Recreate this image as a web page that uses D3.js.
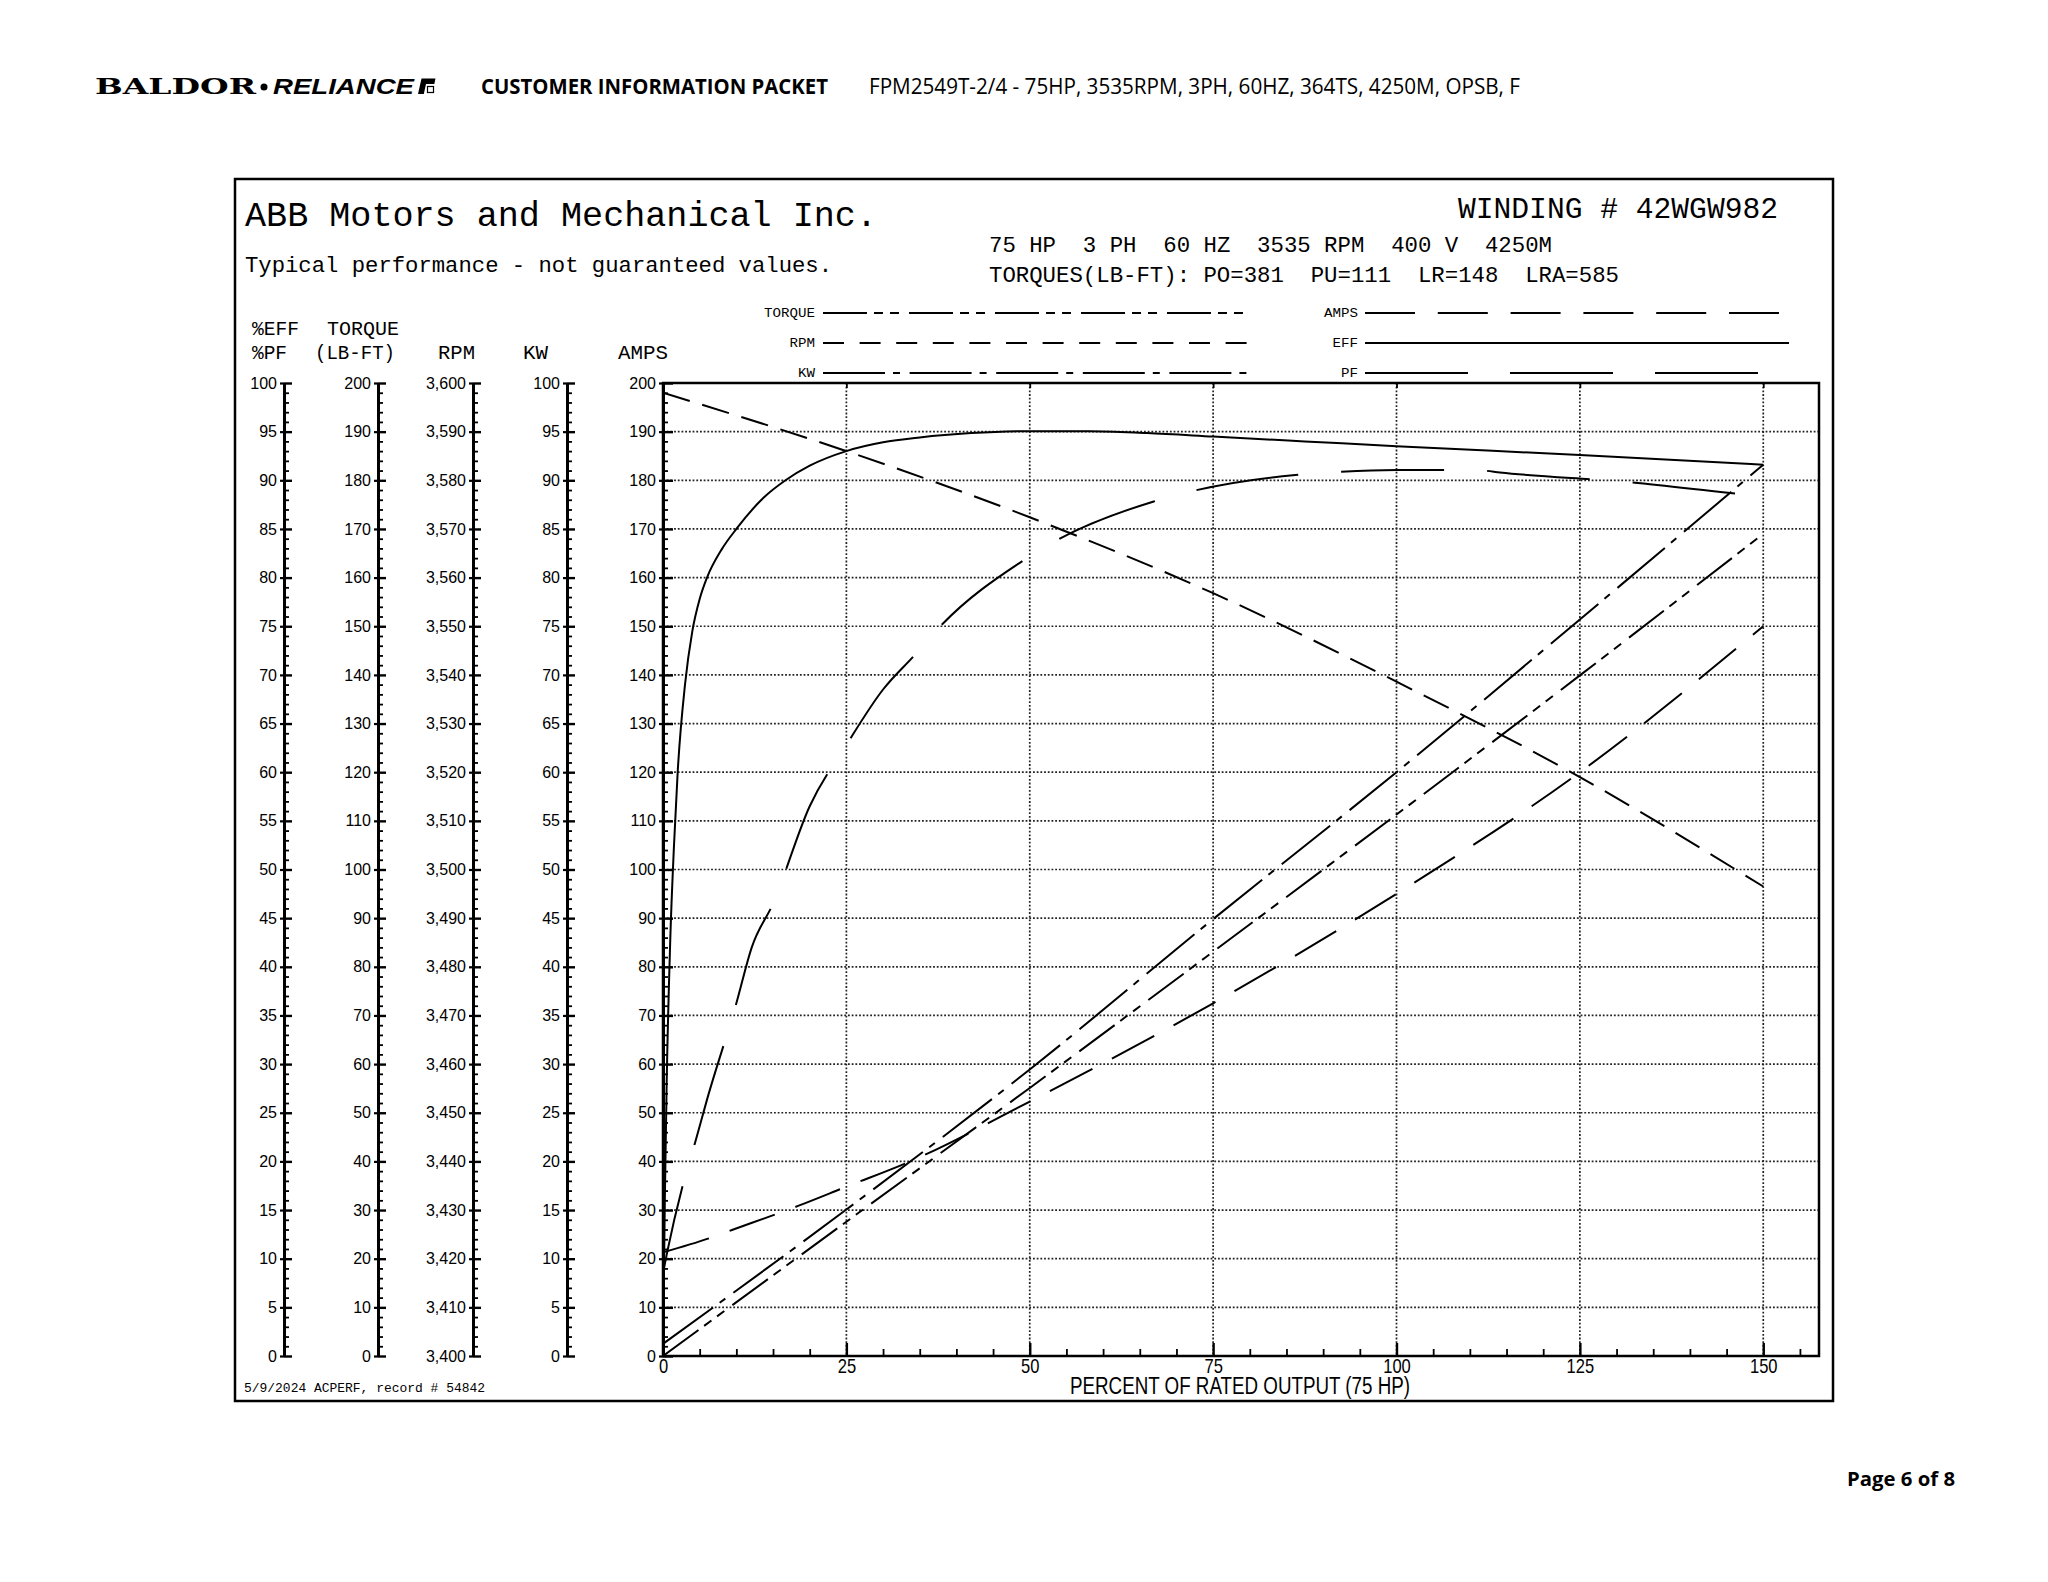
<!DOCTYPE html>
<html><head><meta charset="utf-8">
<script src="https://cdn.jsdelivr.net/npm/d3@7"></script>
<style>body{margin:0;background:#fff} svg{display:block} text{white-space:pre}</style>
</head><body>
<svg id="c" width="2048" height="1582"></svg>
<script>
// ---------------- DATA ----------------
const xTicks = [0, 25, 50, 75, 100, 125, 150];            // % of rated output
const effLoad = [0,0.25,0.5,1,1.5,2,3,4,5,6,8,10,13.7,16.7,20,25,30,35,42,50,58,66,75,87.5,100,125,150];
const effPct  = [0,16,28,43,52.5,60,69,74.5,77.8,80,82.9,85,88.2,90,91.5,93,93.9,94.4,94.85,95.05,95.05,94.85,94.5,94,93.5,92.6,91.6];
const pfLoad  = [0,0.55,2.8,4.4,6,10,12.1,15,20,25,30,34.2,38,49,54.1,66.8,72.5,86.2,91.9,100,105.8,111.7,114.1,131.9,145.5,150];
const pfPct   = [8.5,10.6,17.85,22,26.35,36.25,42,46.5,56.5,62.8,68.5,71.95,75.15,81.7,84,87.8,88.95,90.55,90.85,91.05,91.05,91,90.8,89.8,88.7,88.35];
const rpmLoad = [0,25,50,75,100,125,150];
const rpmVals = [3598,3586,3572.4,3556.8,3538.6,3519,3496.5];
const kwLoad  = [0,25,50,75,100,125,150];
const kwVals  = [1.25,15.05,29.45,44.9,60,75.7,91.6];
const tqLoad  = [0,25,50,75,100,125,150];
const tqVals  = [0,27.6,55.1,83.1,111.3,139.9,169];
const ampLoad = [0,6.5,9.4,15.5,18.5,25,33.7,50,75,100,125,150];
const ampVals = [21.3,24.3,25.9,29.2,30.9,34.8,40,52.3,72.5,95,120,150];
const legendNames = ["TORQUE","RPM","KW","AMPS","EFF","PF"];

// ---------------- LAYOUT ----------------
const svg = d3.select("#c");
const PL = 663, PR = 1819, PT = 383, PB = 1356;
const mono = "Liberation Mono, DejaVu Sans Mono, monospace";
const sans = "Liberation Sans, Arial, sans-serif";

const x = d3.scaleLinear().domain([0, 157.6]).range([PL, PR]);
const yAmp = d3.scaleLinear().domain([0, 200]).range([PB, PT]);
const yEff = d3.scaleLinear().domain([0, 100]).range([PB, PT]);
const yTq  = d3.scaleLinear().domain([0, 200]).range([PB, PT]);
const yRpm = d3.scaleLinear().domain([3400, 3600]).range([PB, PT]);
const yKw  = d3.scaleLinear().domain([0, 100]).range([PB, PT]);

// ---------------- HEADER ----------------
const hdr = svg.append("g");
hdr.append("text").attr("x",95).attr("y",94).attr("font-family","DejaVu Serif, serif").attr("font-weight","bold")
  .attr("font-size",22).attr("textLength",161).attr("lengthAdjust","spacingAndGlyphs").text("BALDOR");
hdr.append("circle").attr("cx",264).attr("cy",87).attr("r",3.5).attr("fill","#000");
hdr.append("text").attr("x",273).attr("y",94).attr("font-family",sans).attr("font-weight","bold").attr("font-style","italic")
  .attr("font-size",22).attr("textLength",141).attr("lengthAdjust","spacingAndGlyphs").text("RELIANCE");
hdr.append("path").attr("d","M418,94 L421.5,78.5 L435.5,78.5 L434.3,84 L426,84 L423.8,94 Z").attr("fill","#000");
hdr.append("rect").attr("x",427.5).attr("y",86.5).attr("width",6).attr("height",6).attr("fill","none").attr("stroke","#000").attr("stroke-width",1.2);
hdr.append("text").attr("x",481).attr("y",94).attr("font-family","Open Sans, "+sans).attr("font-weight","bold")
  .attr("font-size",21).attr("textLength",347).attr("lengthAdjust","spacingAndGlyphs").text("CUSTOMER INFORMATION PACKET");
hdr.append("text").attr("x",869).attr("y",94).attr("font-family","Open Sans, "+sans)
  .attr("font-size",21).attr("textLength",651).attr("lengthAdjust","spacingAndGlyphs")
  .text("FPM2549T-2/4 - 75HP, 3535RPM, 3PH, 60HZ, 364TS, 4250M, OPSB, F");
svg.append("text").attr("x",1847).attr("y",1486).attr("font-family","Open Sans, "+sans).attr("font-weight","bold")
  .attr("font-size",20).attr("textLength",108).attr("lengthAdjust","spacingAndGlyphs").text("Page 6 of 8");

// ---------------- FRAME & TITLES ----------------
svg.append("rect").attr("x",235).attr("y",179).attr("width",1598).attr("height",1222)
  .attr("fill","none").attr("stroke","#000").attr("stroke-width",2.5);
function mtext(tx, xx, yy, size, len, anchor) {
  const t = svg.append("text").attr("x",xx).attr("y",yy).attr("font-family",mono).attr("font-size",size)
    .attr("xml:space","preserve").style("white-space","pre").text(tx);
  if (len) t.attr("textLength",len).attr("lengthAdjust","spacingAndGlyphs");
  if (anchor) t.attr("text-anchor",anchor);
  return t;
}
mtext("ABB Motors and Mechanical Inc.", 245, 226, 35, 632);
mtext("Typical performance - not guaranteed values.", 245, 272, 22, 587);
mtext("WINDING # 42WGW982", 1458, 218, 30, 320);
mtext("75 HP  3 PH  60 HZ  3535 RPM  400 V  4250M", 989, 252, 22, 563);
mtext("TORQUES(LB-FT): PO=381  PU=111  LR=148  LRA=585", 989, 282, 22, 630);
mtext("5/9/2024 ACPERF, record # 54842", 244, 1392, 13, 241);

mtext("%EFF", 252, 335, 19.5, 47);
mtext("TORQUE", 327, 335, 19.5, 72);
mtext("%PF", 252, 359, 19.5, 35);
mtext("(LB-FT)", 315, 359, 19.5, 80);
mtext("RPM", 438, 359, 19.5, 37);
mtext("KW", 523, 359, 19.5, 25);
mtext("AMPS", 618, 359, 19.5, 50);

// ---------------- LEGEND ----------------
const dash = {TORQUE:"44,7,9,7,9,10", RPM:"28,13", KW:"62,8,7,10", AMPS:"48,22", EFF:null, PF:"103,43"};
const legDash = {TORQUE:"44,7,9,7,9,10", RPM:"21,15.6", KW:"62,8,7,9.6", AMPS:"50,22.8", EFF:null, PF:"103,42"};
const legPos = {TORQUE:[815,823,1247,313], RPM:[815,823,1247,343], KW:[815,823,1247,373],
                AMPS:[1358,1365,1779,313], EFF:[1358,1365,1789,343], PF:[1358,1365,1758,373]};
legendNames.forEach(n => {
  const p = legPos[n];
  svg.append("text").attr("x",p[0]).attr("y",p[3]+4).attr("text-anchor","end").attr("font-family",mono)
    .attr("font-size",12).attr("textLength",n.length*8.5).attr("lengthAdjust","spacingAndGlyphs").text(n);
  const l = svg.append("line").attr("x1",p[1]).attr("x2",p[2]).attr("y1",p[3]).attr("y2",p[3])
    .attr("stroke","#000").attr("stroke-width",1.8);
  if (legDash[n]) l.attr("stroke-dasharray",legDash[n]);
});

// ---------------- GRID ----------------
const grid = svg.append("g").attr("stroke","#222").attr("stroke-width",1.7).attr("stroke-dasharray","1.8,1.9");
d3.range(10,200,10).forEach(v => grid.append("line").attr("x1",PL).attr("x2",PR).attr("y1",yAmp(v)).attr("y2",yAmp(v)));
xTicks.slice(1).forEach(v => grid.append("line").attr("x1",x(v)).attr("x2",x(v)).attr("y1",PT).attr("y2",PB));

// ---------------- LEFT AXES ----------------
const leftAxes = [
  {s:yEff, pos:284, maj:5,  min:1, f:d3.format("d"), inner:8},
  {s:yTq,  pos:378, maj:10, min:2, f:d3.format("d"), inner:8},
  {s:yRpm, pos:473, maj:10, min:2, f:d3.format(","), inner:8},
  {s:yKw,  pos:567, maj:5,  min:1, f:d3.format("d"), inner:8},
  {s:yAmp, pos:PL,  maj:10, min:2, f:d3.format("d"), inner:10}
];
leftAxes.forEach(a => {
  const [d0,d1] = a.s.domain();
  const majors = d3.range(d0, d1 + 1e-6, a.maj);
  const minors = d3.range(d0, d1 + 1e-6, a.min).filter(v => Math.abs(((v-d0)/a.maj) - Math.round((v-d0)/a.maj)) > 1e-6);
  const g = svg.append("g").attr("transform",`translate(${a.pos},0)`);
  g.append("g").call(d3.axisLeft(a.s).tickValues(minors).tickSize(-5).tickFormat(""))
    .call(s => s.select(".domain").remove()).selectAll("line").attr("stroke-width",1.8);
  g.append("g").call(d3.axisLeft(a.s).tickValues(majors).tickSize(4).tickFormat(""))
    .call(s => s.select(".domain").remove()).selectAll("line").attr("stroke-width",2.2);
  const m = g.append("g").call(d3.axisLeft(a.s).tickValues(majors).tickSizeInner(-a.inner).tickSizeOuter(0).tickPadding(7).tickFormat(a.f));
  m.selectAll("line").attr("stroke-width",2.4);
  m.select(".domain").attr("stroke-width",3);
  m.selectAll("text").attr("font-family",sans).attr("font-size",16).attr("fill","#000");
});

// ---------------- X AXIS ----------------
const xb = svg.append("g").attr("transform",`translate(0,${PB})`)
  .call(d3.axisBottom(x).tickValues(xTicks).tickSizeInner(-13).tickSizeOuter(0).tickPadding(2));
xb.select(".domain").remove();
xb.selectAll("line").attr("stroke-width",2.4);
xb.selectAll("text").attr("font-family",sans).attr("font-size",21).attr("fill","#000")
  .attr("lengthAdjust","spacingAndGlyphs").each(function(d){ d3.select(this).attr("textLength", String(d).length*9.2); });
const xMinor = d3.range(5,157,5).filter(v => v % 25 !== 0);
svg.append("g").attr("transform",`translate(0,${PB})`)
  .call(d3.axisBottom(x).tickValues(xMinor).tickSize(-7).tickFormat(""))
  .call(s => s.select(".domain").remove()).selectAll("line").attr("stroke-width",1.8);
svg.append("g").attr("transform",`translate(0,${PT})`)
  .call(d3.axisTop(x).tickValues(xTicks.slice(1)).tickSize(-5).tickFormat(""))
  .call(s => s.select(".domain").remove()).selectAll("line").attr("stroke-width",1.8);
svg.append("text").attr("x",1240).attr("y",1394).attr("text-anchor","middle").attr("font-family",sans)
  .attr("font-size",23).attr("textLength",340).attr("lengthAdjust","spacingAndGlyphs")
  .text("PERCENT OF RATED OUTPUT (75 HP)");

// ---------------- CURVES ----------------
svg.append("clipPath").attr("id","pc").append("rect").attr("x",PL).attr("y",PT).attr("width",PR-PL).attr("height",PB-PT);
const curves = svg.append("g").attr("clip-path","url(#pc)").attr("fill","none").attr("stroke","#000").attr("stroke-width",2);
function draw(loads, vals, ys, name, curve, dashStartAt) {
  const pts = loads.map((l,i) => [l, vals[i]]);
  const p = curves.append("path").datum(pts)
    .attr("d", d3.line().x(d => x(d[0])).y(d => ys(d[1])).curve(curve)(pts));
  if (dash[name]) {
    p.attr("stroke-dasharray", dash[name]);
    if (dashStartAt != null) {
      // align the dash phase so that a dash begins at the given load value
      const node = p.node(), L = node.getTotalLength();
      let lo = 0, hi = L, tx = x(dashStartAt);
      for (let k = 0; k < 40; k++) { const mid = (lo+hi)/2; if (node.getPointAtLength(mid).x < tx) lo = mid; else hi = mid; }
      const period = dash[name].split(",").map(Number).reduce((s,v)=>s+v,0);
      p.attr("stroke-dashoffset", period - (lo % period));
    }
  }
}
draw(effLoad, effPct, yEff, "EFF", d3.curveMonotoneX);
draw(pfLoad, pfPct, yEff, "PF", d3.curveMonotoneX, 38);
draw(rpmLoad, rpmVals, yRpm, "RPM", d3.curveMonotoneX);
draw(kwLoad, kwVals, yKw, "KW", d3.curveMonotoneX);
draw(tqLoad, tqVals, yTq, "TORQUE", d3.curveMonotoneX);
draw(ampLoad, ampVals, yAmp, "AMPS", d3.curveMonotoneX);

// plot frame
svg.append("rect").attr("x",PL).attr("y",PT).attr("width",PR-PL).attr("height",PB-PT)
  .attr("fill","none").attr("stroke","#000").attr("stroke-width",2.5);
</script>
</body></html>
